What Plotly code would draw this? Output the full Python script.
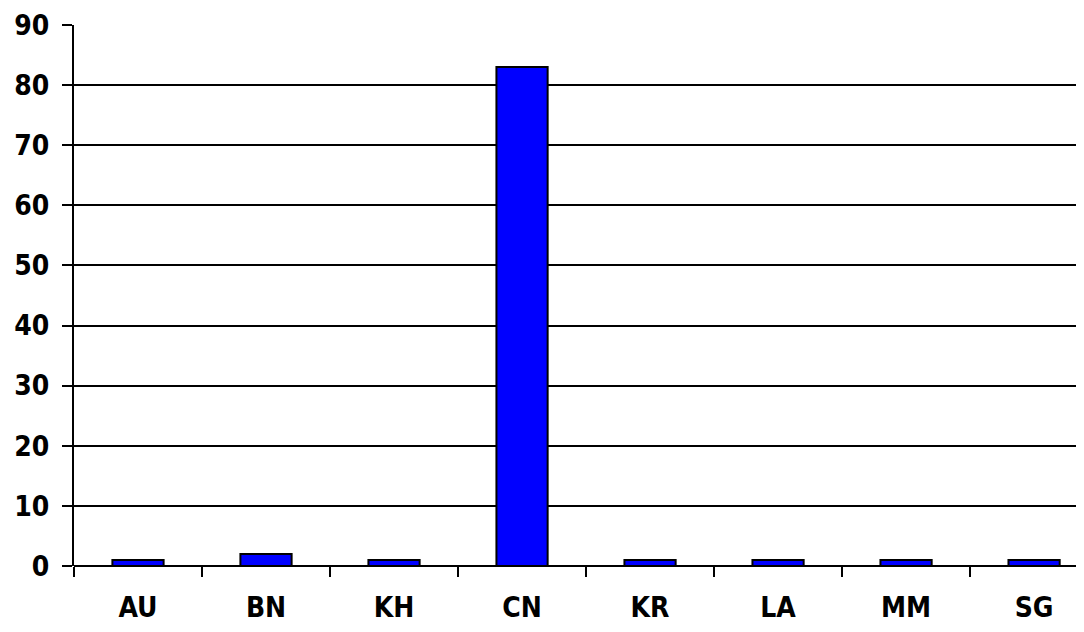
import plotly.graph_objects as go

categories = ["AU", "BN", "KH", "CN", "KR", "LA", "MM", "SG"]
values = [1, 2, 1, 83, 1, 1, 1, 1]
y_ticks = [0, 10, 20, 30, 40, 50, 60, 70, 80, 90]

fig = go.Figure(go.Bar(
    x=categories, y=values,
    marker=dict(color="#0000FF", line=dict(color="black", width=2)),
    width=0.4,
))

FAM = "DejaVu Sans Condensed, Liberation Sans Narrow, sans-serif"
tf = dict(family=FAM, size=28, color="black", weight="bold")

fig.update_layout(
    width=1084, height=632,
    margin=dict(l=66, r=8, t=17, b=74, autoexpand=False),
    plot_bgcolor="white", paper_bgcolor="white",
    showlegend=False,
    font=tf,
)
fig.update_xaxes(
    type="category", range=[-0.5, 7.39], automargin=False,
    showline=False, showgrid=False,
    ticks="outside", tickson="boundaries", ticklen=10, tickwidth=2, tickcolor="black",
    tickfont=tf,
    ticklabelstandoff=22,
)
fig.update_yaxes(
    range=[0, 90], tickvals=y_ticks, automargin=False,
    showline=True, linecolor="black", linewidth=2,
    showgrid=True, gridcolor="black", gridwidth=2,
    zeroline=True, zerolinecolor="black", zerolinewidth=2,
    ticks="outside", ticklen=10, tickwidth=2, tickcolor="black",
    tickfont=tf,
    ticklabelstandoff=7,
)

fig.write_html("out.html")
